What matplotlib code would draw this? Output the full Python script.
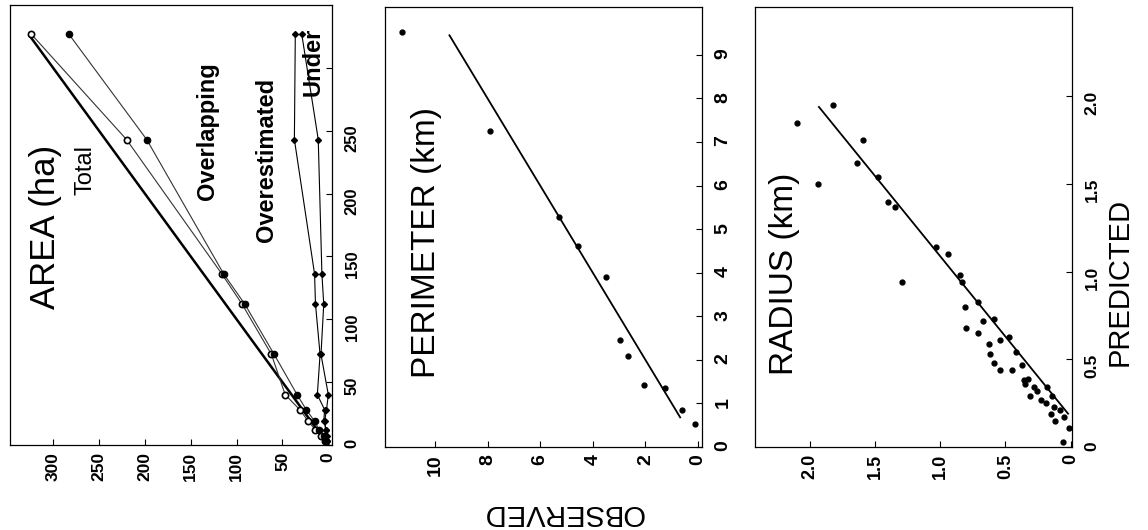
import matplotlib
matplotlib.use('Agg')
import matplotlib.pyplot as plt

plt.rcParams['font.family'] = ['Liberation Sans', 'DejaVu Sans']

# ---------------- data ----------------
# AREA panel (ha)
area_pred = [327, 243, 136, 112, 72, 40, 28, 19, 12, 7, 3]
area_total = [324, 220, 116, 94, 62, 47, 31, 22, 14, 8, 4]
area_overlap = [283, 198, 114, 91, 59, 34, 24, 15, 10, 5, 2]
area_overest = [36, 37, 15, 14, 9, 12, 4, 5, 2, 2, 1]
area_under = [29, 11, 7, 5, 8, 0, 2, 4, 3, 1, 1]
area_line = [0, 325]

# PERIMETER panel (km)
per_obs = [11.27, 7.91, 5.28, 4.55, 3.50, 2.97, 2.65, 2.04, 1.25, 0.60, 0.11]
per_pred = [9.53, 7.25, 5.27, 4.61, 3.90, 2.45, 2.10, 1.43, 1.35, 0.86, 0.52]
per_line = [0.68, 9.45]

# RADIUS panel (km)
rad_obs = [2.10, 1.82, 1.94, 1.59, 1.64, 1.48, 1.40, 1.35, 1.03, 0.94, 1.29, 0.85,
           0.83, 0.81, 0.71, 0.80, 0.71, 0.67, 0.59, 0.63, 0.54, 0.47, 0.62, 0.59,
           0.54, 0.42, 0.45, 0.37, 0.36, 0.33, 0.28, 0.31, 0.26, 0.18, 0.14, 0.19,
           0.13, 0.08, 0.05, 0.12, 0.01, 0.06, 0.35, 0.23, 0.15]
rad_pred = [1.85, 1.95, 1.50, 1.75, 1.62, 1.54, 1.40, 1.37, 1.14, 1.10, 0.94, 0.98,
            0.94, 0.80, 0.83, 0.68, 0.65, 0.72, 0.73, 0.59, 0.61, 0.63, 0.53, 0.48,
            0.44, 0.54, 0.44, 0.47, 0.38, 0.39, 0.34, 0.29, 0.32, 0.34, 0.29, 0.25,
            0.23, 0.21, 0.17, 0.15, 0.11, 0.03, 0.36, 0.27, 0.19]
rad_line_obs = [0.02, 1.93]
rad_line_pred = [0.19, 1.94]

# ticks
area_xticks = [0, 50, 100, 150, 200, 250, 300]
area_yticks = [0, 50, 100, 150, 200, 250, 300]
area_ylabels = ['0', '50', '100', '150', '200', '250', '']
per_xticks = [0, 2, 4, 6, 8, 10]
per_yticks = [0, 1, 2, 3, 4, 5, 6, 7, 8, 9]
rad_xticks = [0, 0.5, 1.0, 1.5, 2.0]
rad_xlabels = ['0', '0.5', '1.0', '1.5', '2.0']
rad_yticks = [0, 0.5, 1.0, 1.5, 2.0]
rad_ylabels = ['0', '0.5', '1.0', '1.5', '2.0']

# ---------------- figure ----------------
W, H = 1148, 530
fig = plt.figure(figsize=(W / 100, H / 100), dpi=100)


def add_ax(l, t, r, b):
    return fig.add_axes([l / W, 1 - b / H, (r - l) / W, (b - t) / H])


def style(ax, xsize, ysize):
    ax.yaxis.tick_right()
    ax.tick_params(axis='both', direction='in', length=4, width=0.8,
                   labelrotation=90)
    ax.tick_params(axis='x', pad=5, labelsize=xsize)
    ax.tick_params(axis='y', pad=9, labelsize=ysize)
    for lbl in ax.get_xticklabels() + ax.get_yticklabels():
        lbl.set_fontweight('bold')
    for s in ax.spines.values():
        s.set_linewidth(0.9)


def ftext(x, y, s, **kw):
    fig.text(x / W, 1 - y / H, s, ha='center', va='center', **kw)


# Panel 1: AREA
ax1 = add_ax(10, 5, 332, 445)
ax1.plot(area_line, area_line, color='black', lw=1.8)
ax1.plot(area_total, area_pred, color='#333333', lw=0.8, marker='o', ms=4.5,
         mfc='white', mec='black', mew=1.2)
ax1.plot(area_overlap, area_pred, color='#333333', lw=0.8, marker='o', ms=4.5,
         mfc='black', mec='black')
ax1.plot(area_overest, area_pred, color='black', lw=0.8, marker='D', ms=3)
ax1.plot(area_under, area_pred, color='black', lw=0.8, marker='D', ms=3)
ax1.set_xlim(347, -4)
ax1.set_ylim(0, 350)
ax1.set_xticks(area_xticks)
ax1.set_yticks(area_yticks)
ax1.set_yticklabels(area_ylabels)
style(ax1, 12.5, 12)

# Panel 2: PERIMETER
ax2 = add_ax(385, 7, 702, 447)
ax2.plot(per_line, per_line, color='black', lw=1.3)
ax2.plot(per_obs, per_pred, 'o', color='black', ms=3.5)
ax2.set_xlim(11.9, -0.15)
ax2.set_ylim(0, 10.1)
ax2.set_xticks(per_xticks)
ax2.set_yticks(per_yticks)
style(ax2, 14, 14)

# Panel 3: RADIUS
ax3 = add_ax(755, 7, 1072, 447)
ax3.plot(rad_line_obs, rad_line_pred, color='black', lw=1.3)
ax3.plot(rad_obs, rad_pred, 'o', color='black', ms=3.5)
ax3.set_xlim(2.42, -0.01)
ax3.set_ylim(0, 2.51)
ax3.set_xticks(rad_xticks)
ax3.set_xticklabels(rad_xlabels)
ax3.set_yticks(rad_yticks)
ax3.set_yticklabels(rad_ylabels)
style(ax3, 13, 12.5)

# Texts
ftext(45, 227, 'AREA (ha)', rotation=90, fontsize=25)
ftext(86, 170, 'Total', rotation=90, fontsize=17)
ftext(207, 131, 'Overlapping', rotation=90, fontsize=17, fontweight='bold')
ftext(267, 160, 'Overestimated', rotation=90, fontsize=17, fontweight='bold')
ftext(313, 62, 'Under', rotation=90, fontsize=17, fontweight='bold')
ftext(427, 242, 'PERIMETER (km)', rotation=90, fontsize=24)
ftext(784, 274, 'RADIUS (km)', rotation=90, fontsize=24)
ftext(1120, 282, 'PREDICTED', rotation=90, fontsize=21)
ftext(563, 513, 'OBSERVED', rotation=180, fontsize=21)

fig.savefig('out.png', dpi=100)
